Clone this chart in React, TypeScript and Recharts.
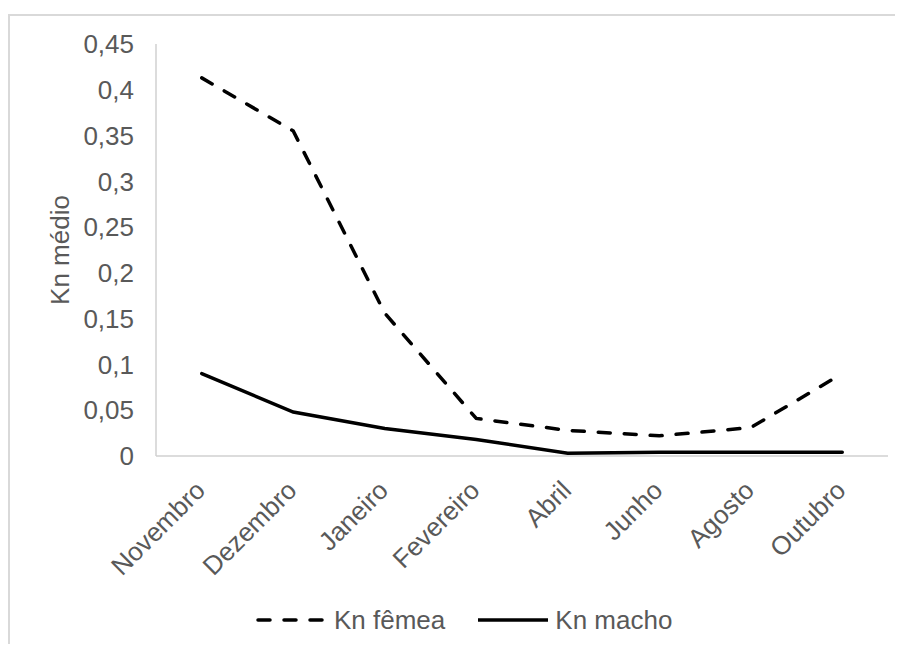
import React from "react";
import { LineChart, Line, XAxis, YAxis, Legend, Label } from "recharts";

// Monthly mean condition factor (Kn) by sex
const meses = ["Novembro", "Dezembro", "Janeiro", "Fevereiro", "Abril", "Junho", "Agosto", "Outubro"];
const knFemea = [0.413, 0.355, 0.156, 0.041, 0.028, 0.022, 0.031, 0.09];
const knMacho = [0.09, 0.048, 0.03, 0.018, 0.003, 0.004, 0.004, 0.004];
const yTicks = [0, 0.05, 0.1, 0.15, 0.2, 0.25, 0.3, 0.35, 0.4, 0.45];

const data = meses.map((mes, i) => ({ mes, femea: knFemea[i], macho: knMacho[i] }));

const FONT = "'Liberation Sans', Arial, sans-serif";
const TEXT = "#595959";
const AXIS = "#d0d0d0";
const FS = 26;

const fmt = (v: number) => String(Number(v.toFixed(2))).replace(".", ",");

const XTick = (props: any) => {
  const { x, y, payload } = props;
  const tx = x + 5;
  const ty = y + 36;
  return (
    <text
      x={tx}
      y={ty}
      textAnchor="end"
      fill={TEXT}
      fontSize={FS}
      fontFamily={FONT}
      transform={`rotate(-45, ${tx}, ${ty})`}
    >
      {payload.value}
    </text>
  );
};

const LegendContent = () => (
  <div
    style={{
      display: "flex",
      alignItems: "center",
      height: 40,
      paddingLeft: 246,
      fontFamily: FONT,
      fontSize: FS,
      color: TEXT,
      boxSizing: "border-box",
      paddingBottom: 8,
    }}
  >
    <svg width={70} height={10} style={{ display: "block" }}>
      <line x1={2} y1={5} x2={68} y2={5} stroke="#000" strokeWidth={3.5} strokeDasharray="12 14" strokeLinecap="round" />
    </svg>
    <span style={{ marginLeft: 8 }}>Kn fêmea</span>
    <svg width={72} height={10} style={{ display: "block", marginLeft: 32 }}>
      <line x1={1} y1={5} x2={71} y2={5} stroke="#000" strokeWidth={3.5} />
    </svg>
    <span style={{ marginLeft: 6 }}>Kn macho</span>
  </div>
);

export default function App() {
  return (
    <div style={{ position: "relative", width: 895, height: 636, overflow: "hidden" }}>
      <style>{"html,body{overflow:hidden}"}</style>
      <div
        style={{
          position: "absolute",
          left: 0,
          top: 6,
          width: 920,
          height: 640,
          borderLeft: "2px solid #d9d9d9",
          borderTop: "2px solid #d9d9d9",
          boxSizing: "border-box",
          background: "#fff",
        }}
      >
        <LineChart
          width={893}
          height={628}
          data={data}
          margin={{ top: 28, right: 15, left: 0, bottom: 0 }}
          style={{ fontFamily: FONT }}
        >
          <XAxis
            dataKey="mes"
            axisLine={{ stroke: AXIS, strokeWidth: 1.5 }}
            tickLine={false}
            tickSize={0}
            tickMargin={0}
            height={148}
            interval={0}
            padding={{ left: 45.75, right: 45.75 }}
            tick={<XTick />}
          />
          <YAxis
            width={146}
            domain={[0, 0.45]}
            ticks={yTicks}
            interval={0}
            axisLine={{ stroke: AXIS, strokeWidth: 1.5 }}
            tickLine={false}
            tickSize={0}
            tickMargin={22}
            tickFormatter={fmt}
            tick={{ fill: TEXT, fontSize: FS, fontFamily: FONT }}
          >
            <Label
              content={(p: any) => {
                const vb = p.viewBox || { x: 0, y: 28, height: 412 };
                const cx = vb.x + 50;
                const cy = vb.y + vb.height / 2;
                return (
                  <text
                    x={cx}
                    y={cy}
                    textAnchor="middle"
                    dominantBaseline="central"
                    fill={TEXT}
                    fontSize={FS}
                    fontFamily={FONT}
                    transform={`rotate(-90, ${cx}, ${cy})`}
                  >
                    Kn médio
                  </text>
                );
              }}
            />
          </YAxis>
          <Legend
            verticalAlign="bottom"
            height={40}
            content={<LegendContent />}
            wrapperStyle={{ left: 0, width: 893, bottom: 0, height: 40 }}
          />
          <Line
            type="linear"
            dataKey="femea"
            stroke="#000"
            strokeWidth={3.5}
            strokeDasharray="12 14"
            strokeLinecap="round"
            dot={false}
            activeDot={false}
            isAnimationActive={false}
          />
          <Line
            type="linear"
            dataKey="macho"
            stroke="#000"
            strokeWidth={3.5}
            strokeLinecap="round"
            dot={false}
            activeDot={false}
            isAnimationActive={false}
          />
        </LineChart>
      </div>
    </div>
  );
}
